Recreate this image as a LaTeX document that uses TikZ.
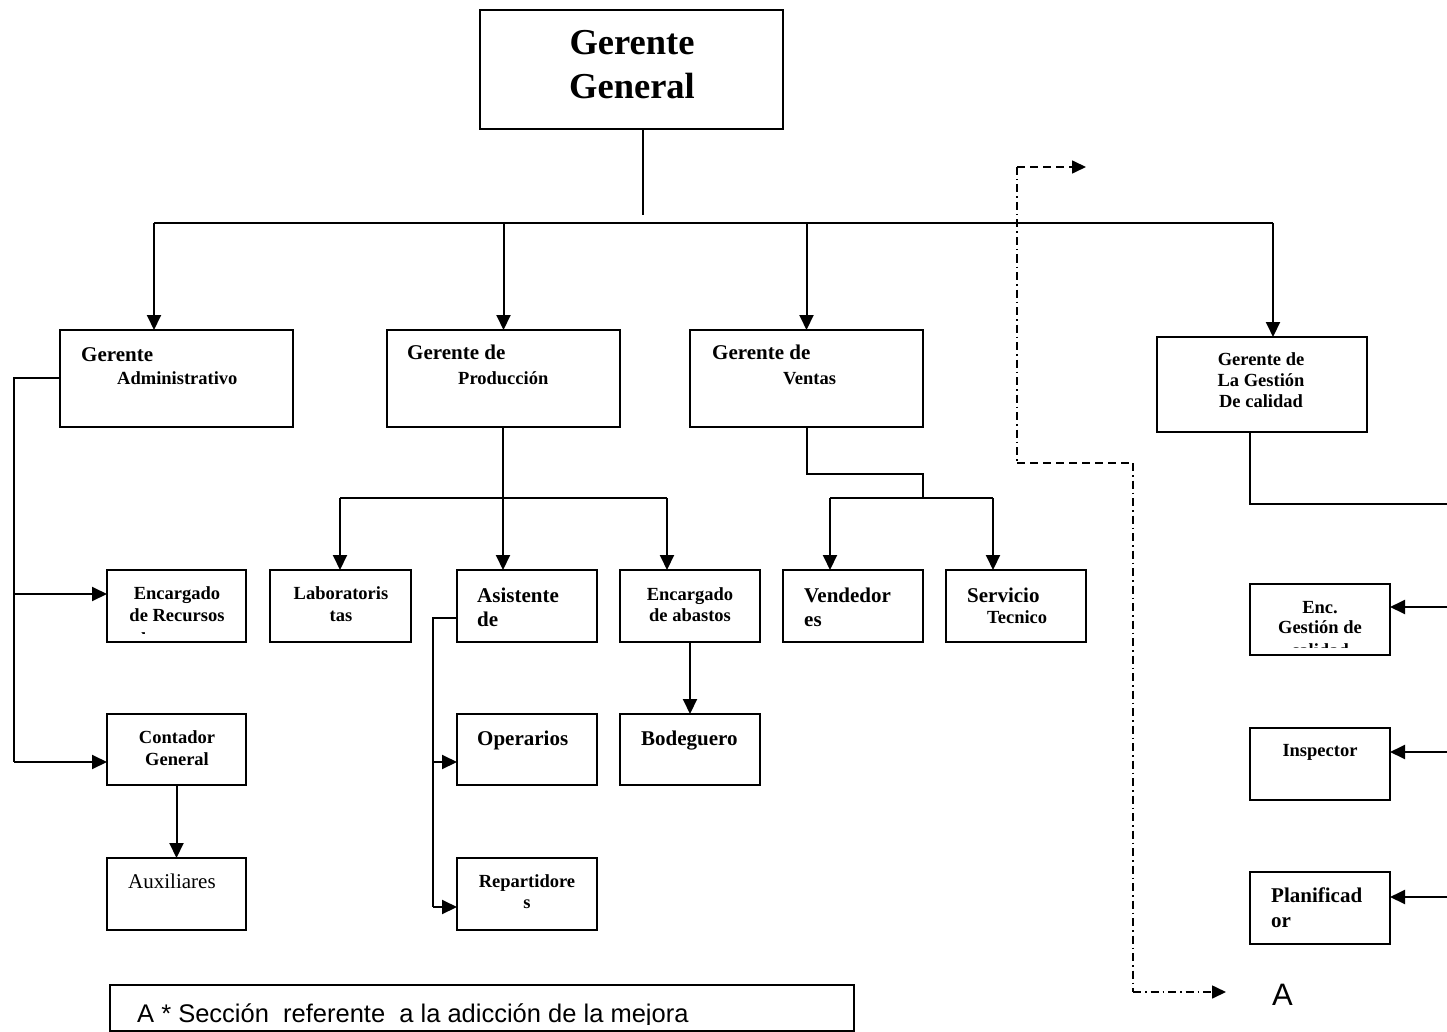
\documentclass[tikz,border=0pt]{standalone}
\usepackage{fontspec}
\setmainfont{Liberation Serif}
\newfontfamily\legendsans{Liberation Sans}
\usetikzlibrary{arrows.meta}

% box from its corners: name, left, top, right, bottom
\newcommand\orgbox[5]{%
  \node[box, minimum width={(#4)-(#2)}, minimum height={(#5)-(#3)}]
    (#1) at ({((#2)+(#4))/2},{((#3)+(#5))/2}) {};}

\begin{document}
\begin{tikzpicture}[x=1pt,y=-1pt,
  box/.style={draw, line width=2pt, inner sep=0pt, outer sep=0pt},
  conn/.style={line width=2pt},
  arr/.style={conn, -{Triangle[width=14pt,length=15pt]}},
  tbig/.style={inner sep=0pt, font=\fontsize{36.5}{40}\selectfont\bfseries},
  thd/.style={inner sep=0pt, font=\fontsize{21}{24}\selectfont\bfseries},
  tsm/.style={inner sep=0pt, font=\fontsize{18.5}{22}\selectfont\bfseries},
  treg/.style={inner sep=0pt, font=\fontsize{21}{24}\selectfont},
  dashA/.style={line width=1.6pt, dash pattern=on 8pt off 5pt},
  dashdot/.style={line width=1.6pt, dash pattern=on 8pt off 4pt on 1.5pt off 4pt},
  dtip/.style={-{Triangle[width=13pt,length=14pt]}}]

\useasboundingbox (0,0) rectangle (1447,1032);
\clip (0,0) rectangle (1447,1032);
\fill[white] (0,0) rectangle (1447,1032);

% ---------- boxes ----------
\orgbox{gg}{480}{10}{783}{129}
\orgbox{adm}{60}{330}{293}{427}
\orgbox{prod}{387}{330}{620}{427}
\orgbox{ven}{690}{330}{923}{427}
\orgbox{ges}{1157}{337}{1367}{432}
\orgbox{rec}{107}{570}{246}{642}
\orgbox{lab}{270}{570}{411}{642}
\orgbox{asi}{457}{570}{597}{642}
\orgbox{aba}{620}{570}{760}{642}
\orgbox{vend}{783}{570}{923}{642}
\orgbox{serv}{946}{570}{1086}{642}
\orgbox{cont}{107}{714}{246}{785}
\orgbox{aux}{107}{858}{246}{930}
\orgbox{ope}{457}{714}{597}{785}
\orgbox{bod}{620}{714}{760}{785}
\orgbox{rep}{457}{858}{597}{930}
\orgbox{enc}{1250}{584}{1390}{655}
\orgbox{insp}{1250}{728}{1390}{800}
\orgbox{plan}{1250}{872}{1390}{944}
\orgbox{leg}{110}{985}{854}{1031}

% ---------- texts ----------
\node[tbig, anchor=base] (ggT1) at (632,55) {Gerente};
\node[tbig, anchor=base] (ggT2) at (632,99) {General};

\node[thd, anchor=base west] (admT1) at (81,361) {Gerente};
\node[tsm, anchor=base west] (admT2) at (117,384) {Administrativo};

\node[thd, anchor=base west] (prodT1) at (407,359) {Gerente de};
\node[tsm, anchor=base west] (prodT2) at (458,384) {Producción};

\node[thd, anchor=base west] (venT1) at (712,359) {Gerente de};
\node[tsm, anchor=base west] (venT2) at (783,384) {Ventas};

\node[tsm, anchor=base] (gesT1) at (1261,365) {Gerente de};
\node[tsm, anchor=base] (gesT2) at (1261,386) {La Gestión};
\node[tsm, anchor=base] (gesT3) at (1261,407) {De calidad};

\begin{scope}
  \clip (107,570) rectangle (246,633.5);
  \node[tsm, anchor=base] (recT1) at (177,599) {Encargado};
  \node[tsm, anchor=base] (recT2) at (177,621) {de Recursos};
  \node[tsm, anchor=base] (recT3) at (177,645) {humanos};
\end{scope}

\node[tsm, anchor=base] (labT1) at (341,599) {Laboratoris};
\node[tsm, anchor=base] (labT2) at (341,621) {tas};

\node[thd, anchor=base west] (asiT1) at (477,602) {Asistente};
\node[thd, anchor=base west] (asiT2) at (477,626) {de};

\node[tsm, anchor=base] (abaT1) at (690,600) {Encargado};
\node[tsm, anchor=base] (abaT2) at (690,621) {de abastos};

\node[thd, anchor=base west] (vendT1) at (804,602) {Vendedor};
\node[thd, anchor=base west] (vendT2) at (804,626) {es};

\node[thd, anchor=base west] (servT1) at (967,602) {Servicio};
\node[tsm, anchor=base west] (servT2) at (987,623) {Tecnico};

\node[tsm, anchor=base] (contT1) at (177,743) {Contador};
\node[tsm, anchor=base] (contT2) at (177,765) {General};

\node[treg, anchor=base west] (auxT) at (128,888) {Auxiliares};

\node[thd, anchor=base west] (opeT) at (477,745) {Operarios};
\node[thd, anchor=base west] (bodT) at (641,745) {Bodeguero};

\node[tsm, anchor=base] (repT1) at (527,887) {Repartidore};
\node[tsm, anchor=base] (repT2) at (527,908) {s};

\begin{scope}
  \clip (1250,584) rectangle (1390,647);
  \node[tsm, anchor=base] (encT1) at (1320,613) {Enc.};
  \node[tsm, anchor=base] (encT2) at (1320,633) {Gestión de};
  \node[tsm, anchor=base] (encT3) at (1320,656) {calidad};
\end{scope}

\node[tsm, anchor=base] (inspT) at (1320,756) {Inspector};

\node[thd, anchor=base west] (planT1) at (1271,902) {Planificad};
\node[thd, anchor=base west] (planT2) at (1271,927) {or};

\begin{scope}
  \clip (110,985) rectangle (854,1024);
  \node[inner sep=0pt, anchor=base west, font=\legendsans\fontsize{25.5}{28}\selectfont]
    (legT) at (137,1022) {A * Sección\ \ referente\ \ a la adicción de la mejora};
\end{scope}

\node[inner sep=0pt, anchor=base west, font=\legendsans\fontsize{31}{34}\selectfont]
  (Alabel) at (1272,1005) {A};

% ---------- top level ----------
\coordinate (ggstub) at (643,215);
\coordinate (busL) at (154,223);
\coordinate (busR) at (1273,223);
\draw[conn] (gg.south -| ggstub) -- (ggstub);
\draw[conn] (busL) -- (busR);
\draw[arr] (busL) -- (busL |- adm.north);
\draw[arr] (prod.north |- busL) -- (prod.north);
\draw[arr] (ven.north |- busL) -- (ven.north);
\draw[arr] (busR) -- (busR |- ges.north);

% ---------- administration ----------
\coordinate (admStub) at (14,378);
\coordinate (admTrunk) at (14,762);
\coordinate (admR) at (14,594);
\draw[conn] (admStub -| adm.west) -- (admStub) -- (admTrunk);
\draw[arr] (admR) -- (admR -| rec.west);
\draw[arr] (admTrunk) -- (admTrunk -| cont.west);
\draw[arr] (cont.south) -- (aux.north);

% ---------- production ----------
\coordinate (pj) at (503,498);
\coordinate (pjL) at (340,498);
\coordinate (pjR) at (667,498);
\draw[conn] (pj |- prod.south) -- (pj);
\draw[conn] (pjL) -- (pjR);
\draw[arr] (pjL) -- (pjL |- lab.north);
\draw[arr] (pj) -- (pj |- asi.north);
\draw[arr] (pjR) -- (pjR |- aba.north);
\draw[arr] (aba.south) -- (bod.north);

\coordinate (asiStub) at (433,618);
\coordinate (asiO) at (433,762);
\coordinate (asiR) at (433,907);
\draw[conn] (asiStub -| asi.west) -- (asiStub) -- (asiR);
\draw[arr] (asiO) -- (asiO -| ope.west);
\draw[arr] (asiR) -- (asiR -| rep.west);

% ---------- sales ----------
\coordinate (vA) at (807,474);
\coordinate (vB) at (923,474);
\coordinate (vC) at (923,498);
\coordinate (vL) at (830,498);
\coordinate (vR) at (993,498);
\draw[conn] (vA |- ven.south) -- (vA) -- (vB) -- (vC);
\draw[conn] (vL) -- (vR);
\draw[arr] (vL) -- (vL |- vend.north);
\draw[arr] (vR) -- (vR |- serv.north);

% ---------- quality management ----------
\coordinate (gDrop) at (1250,504);
\coordinate (gR) at (1449,504);
\coordinate (e1) at (1449,607);
\coordinate (e2) at (1449,752);
\coordinate (e3) at (1449,897);
\draw[conn] (gDrop |- ges.south) -- (gDrop) -- (gR) -- (e3);
\draw[arr] (e1) -- (e1 -| enc.east);
\draw[arr] (e2) -- (e2 -| insp.east);
\draw[arr] (e3) -- (e3 -| plan.east);

% ---------- improvement section marker ----------
\coordinate (q0) at (1017,167);
\coordinate (q1) at (1086,167);
\coordinate (q2) at (1017,463);
\coordinate (q3) at (1133,463);
\coordinate (q4) at (1133,992);
\coordinate (q5) at (1226,992);
\draw[dashA, dtip] (q0) -- (q1);
\draw[dashdot] (q0) -- (q2);
\draw[dashA] (q2) -- (q3);
\draw[dashdot] (q3) -- (q4);
\draw[dashdot, dtip] (q4) -- (q5);

\end{tikzpicture}
\end{document}
